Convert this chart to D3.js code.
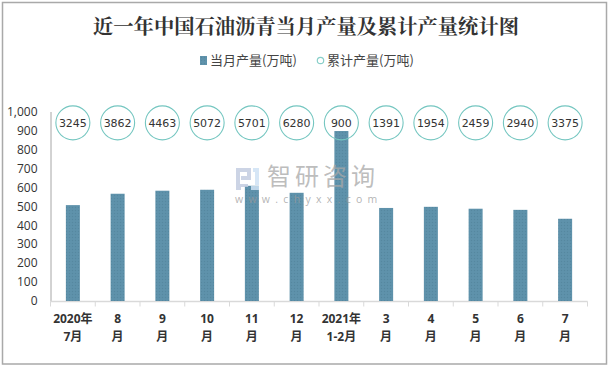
<!DOCTYPE html>
<html><head><meta charset="utf-8">
<script src="https://cdn.jsdelivr.net/npm/d3@7/dist/d3.min.js"></script>
<style>html,body{margin:0;padding:0;background:#fff}svg{display:block}</style>
</head><body><svg id="c" width="611" height="369"></svg>
<script>
const categories=["2020年\n7月","8\n月","9\n月","10\n月","11\n月","12\n月","2021年\n1-2月","3\n月","4\n月","5\n月","6\n月","7\n月"];
const monthly=[506,566,582,587,608,571,897,491,497,487,481,434];
const cumulative=[3245,3862,4463,5072,5701,6280,900,1391,1954,2459,2940,3375];
const yTicks=[0,100,200,300,400,500,600,700,800,900,1000];
const title="近一年中国石油沥青当月产量及累计产量统计图";
const legendLabels=["当月产量(万吨)","累计产量(万吨)"];
const cjk='"Noto Sans CJK SC",sans-serif';
const num='"Open Sans","Noto Sans",sans-serif';
const svg=d3.select("#c");
const defs=svg.append("defs");
const pat=defs.append("pattern").attr("id","dots").attr("width",3).attr("height",3).attr("patternUnits","userSpaceOnUse");
pat.append("rect").attr("width",3).attr("height",3).attr("fill","#5d91aa");
pat.append("rect").attr("width",1).attr("height",1).attr("fill","#56879f");
pat.append("rect").attr("x",1.5).attr("y",1.5).attr("width",1).attr("height",1).attr("fill","#6396ae");
svg.append("rect").attr("x",2.5).attr("y",2.5).attr("width",604).attr("height",361.5).attr("fill","#fff").attr("stroke","#a9a9a9").attr("stroke-width",1.5);
svg.append("text").attr("x",306).attr("y",33.5).attr("text-anchor","middle").attr("font-family",'"Noto Serif CJK SC","Noto Sans CJK SC",serif').attr("font-weight",700).attr("font-size",20.3).attr("fill","#333").text(title);
const x=d3.scaleBand().domain(categories).range([50.5,587.5]);
const y=d3.scaleLinear().domain([0,1000]).range([301,111.5]);
const gy=svg.append("g").attr("transform","translate(50.5,0)").call(d3.axisLeft(y).tickValues(yTicks).tickSize(0).tickPadding(13).tickFormat(d3.format(",")));
gy.select(".domain").attr("stroke","#a6a6a6").attr("stroke-width",1);
gy.selectAll("text").attr("font-family",num).attr("font-size",12).attr("fill","#333");
const gx=svg.append("g").attr("transform","translate(0,301.5)").call(d3.axisBottom(x).tickSize(0).tickFormat(""));
gx.select(".domain").attr("stroke","#d9d9d9").attr("stroke-width",1.5).attr("d","M50.5,0H587.5");
gx.selectAll("line.sep").data(d3.range(13)).enter().append("line").attr("class","sep")
 .attr("x1",i=>50.5+i*x.step()).attr("x2",i=>50.5+i*x.step()).attr("y1",0).attr("y2",5).attr("stroke","#d9d9d9").attr("stroke-width",1);
const catLabels=svg.append("g").selectAll("text").data(categories).enter().append("text")
 .attr("text-anchor","middle").attr("font-family",'"Open Sans","Noto Sans CJK SC",sans-serif').attr("font-weight",700).attr("font-size",12).attr("fill","#333");
catLabels.each(function(d){
 const t=d3.select(this);
 d.split("\n").forEach((s,i)=>t.append("tspan").attr("x",x(d)+x.bandwidth()/2).attr("y",323+i*18).text(s));
});
const barW=14;
svg.append("g").selectAll("rect").data(monthly).enter().append("rect")
 .attr("x",(d,i)=>x(categories[i])+x.bandwidth()/2-barW/2).attr("width",barW)
 .attr("y",d=>y(d)).attr("height",d=>301-y(d)).attr("fill","url(#dots)");
const labelLevel=y(940);
const bub=svg.append("g").selectAll("g").data(cumulative).enter().append("g")
 .attr("transform",(d,i)=>`translate(${x(categories[i])+x.bandwidth()/2},${labelLevel})`);
bub.append("circle").attr("r",17).attr("fill","none").attr("stroke","#74c6c0").attr("stroke-width",1.1);
bub.append("text").attr("text-anchor","middle").attr("dy","0.36em").attr("font-family",'"DejaVu Sans",sans-serif').attr("font-size",11).attr("fill","#333").text(d=>d);
// legend
const lg=svg.append("g");
lg.append("rect").attr("x",200).attr("y",56).attr("width",7).attr("height",9).attr("fill","url(#dots)");
lg.append("text").attr("x",210).attr("y",65).attr("font-family",cjk).attr("font-size",13).attr("fill","#444").text(legendLabels[0]);
lg.append("circle").attr("cx",320.5).attr("cy",60.5).attr("r",3.2).attr("fill","none").attr("stroke","#88cfc9").attr("stroke-width",1.2);
lg.append("text").attr("x",327).attr("y",65).attr("font-family",cjk).attr("font-size",13).attr("fill","#444").text(legendLabels[1]);
// watermark
const wm=svg.append("g").attr("pointer-events","none");
wm.append("path").attr("d","M236,168H251V180H241V176H247V172H240V184H248V187H236ZM236,187H241V190H236Z").attr("fill","#c3cde0").attr("fill-opacity",.85);
wm.append("path").attr("d","M253,168H259V185H255V172H253ZM251,186H259V190H251Z").attr("fill","#cfe2f4").attr("fill-opacity",.85);
wm.append("text").attr("x",267).attr("y",185).attr("font-family",cjk).attr("font-size",24).attr("letter-spacing",4).attr("fill","#a8a8a8").attr("fill-opacity",.75).text("智研咨询");
wm.append("text").attr("x",235).attr("y",203).attr("font-family",num).attr("font-size",10.5).attr("letter-spacing",5.3).attr("fill","#9a9a9a").attr("fill-opacity",.75).text("www.chyxx.com");
</script></body></html>
